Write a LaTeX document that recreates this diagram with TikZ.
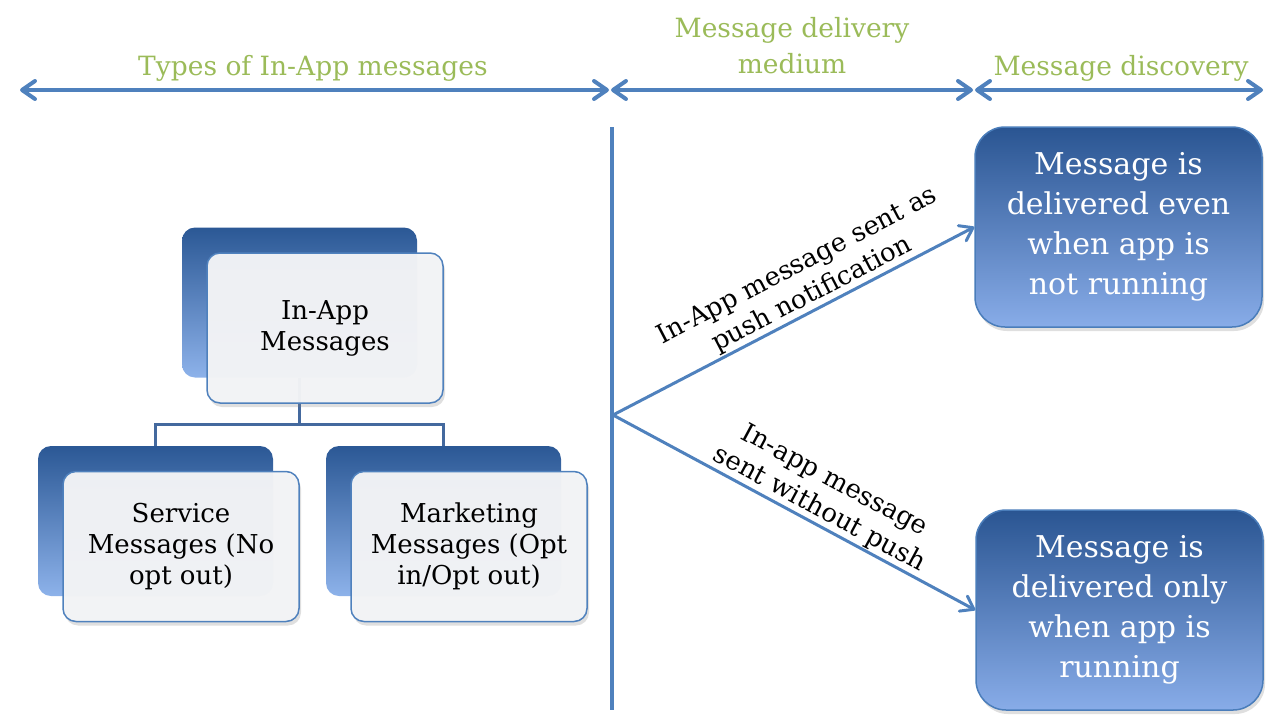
\documentclass[tikz,border=0pt]{standalone}
\usepackage{fontspec}
\setmainfont{DejaVu Serif}
\usetikzlibrary{arrows.meta,shadows}
\definecolor{arrowblue}{HTML}{4F81BD}
\definecolor{titlegreen}{HTML}{9BBB59}
\definecolor{darktop}{HTML}{2B5895}
\definecolor{darkbot}{HTML}{8DB2EA}
\definecolor{restop}{HTML}{2A5592}
\definecolor{resbot}{HTML}{88ACE8}
\definecolor{resborder}{HTML}{4A7DBA}
\definecolor{frontfill}{HTML}{F3F4F6}
\definecolor{treeline}{HTML}{44699E}
\tikzset{
  dbl/.style={line width=4pt, draw=arrowblue,
    {Straight Barb[length=13pt,width=18pt,round]}-{Straight Barb[length=13pt,width=18pt,round]}},
  heading/.style={text=titlegreen, font=\fontsize{26.5}{36}\selectfont, align=center, inner sep=0pt},
  backbox/.style={rounded corners=13pt, minimum width=235pt, minimum height=150pt,
    top color=darktop, bottom color=darkbot, draw=none, inner sep=0pt},
  frontbox/.style={rounded corners=13pt, minimum width=236pt, minimum height=150pt,
    fill=frontfill, fill opacity=0.97, text opacity=1, draw=arrowblue, line width=1.5pt,
    align=center, font=\fontsize{26}{31}\selectfont, inner sep=0pt,
    drop shadow={opacity=0.25, shadow xshift=2pt, shadow yshift=-4pt}},
  resbox/.style={rounded corners=30pt, minimum width=287pt, minimum height=200pt,
    top color=restop, bottom color=resbot, draw=resborder, line width=1.5pt,
    text=white, align=center, font=\fontsize{30}{40}\selectfont, inner sep=0pt,
    drop shadow={opacity=0.25, shadow xshift=2pt, shadow yshift=-4pt}},
  tree/.style={line width=3pt, draw=treeline},
  divider/.style={line width=4.5pt, draw=arrowblue},
  flow/.style={line width=3pt, draw=arrowblue, -{Straight Barb[length=12pt,width=17pt,round]}},
  lab/.style={font=\fontsize{26}{32}\selectfont, align=center, sloped, above, inner sep=1pt}
}
\begin{document}
\begin{tikzpicture}[x=1pt,y=-1pt]
\useasboundingbox (0,0) rectangle (1282,726);

% headings
\node[heading, anchor=base] (h1) at (313,75) {Types of In-App messages};
\node[heading, anchor=south] (h2) at (792,74) {Message delivery\\medium};
\node[heading, anchor=base] (h3) at (1121,75) {Message discovery};

% top double arrows
\coordinate (a0) at (20,90);
\coordinate (a1) at (609,90);
\coordinate (a1b) at (611,90);
\coordinate (a2) at (973,90);
\coordinate (a2b) at (975,90);
\coordinate (a3) at (1263,90);
\draw[dbl] (a0) -- (a1);
\draw[dbl] (a1b) -- (a2);
\draw[dbl] (a2b) -- (a3);

% tree: back boxes
\node[backbox] (p) at (299.5,302.5) {};
\node[backbox] (s) at (155.5,521) {};
\node[backbox] (m) at (443.5,521) {};
\coordinate (j) at (299.5,424);
\draw[tree] (p.south) -- (j) -| (s.north);
\draw[tree] (j) -| (m.north);

% tree: front boxes
\node[frontbox] (pf) at (325,328) {In-App\\Messages};
\node[frontbox] (sf) at (181,546.5) {Service\\Messages (No\\opt out)};
\node[frontbox] (mf) at (469,546.5) {Marketing\\Messages (Opt\\in/Opt out)};

% divider
\coordinate (vt) at (612,127);
\coordinate (vb) at (612,710);
\draw[divider] (vt) -- (vb);
\coordinate (o) at (613,415);

% result boxes
\node[resbox] (r1) at (1118.5,227) {Message is\\delivered even\\when app is\\not running};
\node[resbox] (r2) at (1119.5,610) {Message is\\delivered only\\when app is\\running};

% flows
\draw[flow] (o) -- (r1.west) node[lab, pos=0.57] {In-App message sent as\\push notification};
\draw[flow] (o) -- (r2.west) node[lab, pos=0.55] {In-app message\\sent without push};
\end{tikzpicture}
\end{document}
